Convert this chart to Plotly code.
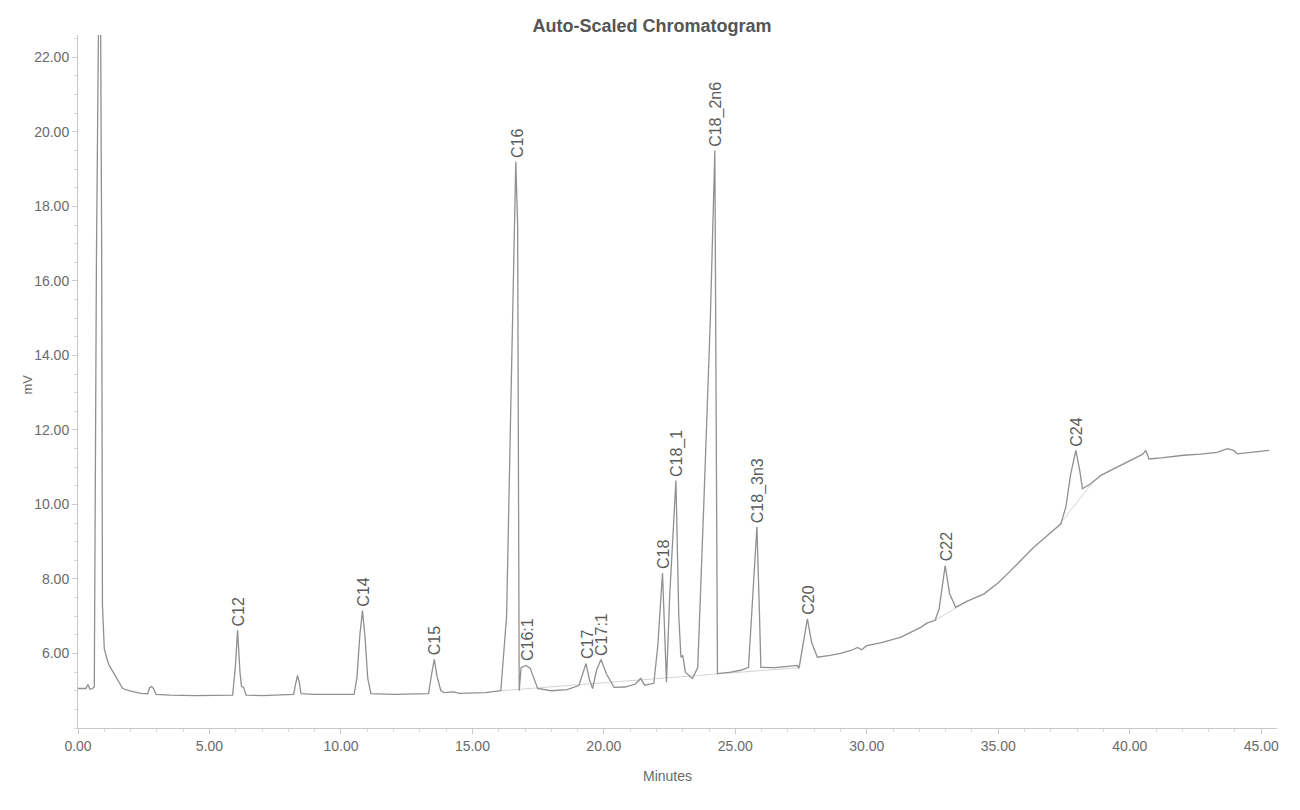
import plotly.graph_objects as go

# ---- data (minutes, mV) ----
times = [0.00, 0.30, 0.38, 0.45, 0.55, 0.62, 0.70, 0.78, 0.86, 0.90, 0.93, 1.00, 1.10, 1.20,
         1.37, 1.55, 1.70, 2.00, 2.40, 2.65, 2.72, 2.80, 2.88, 2.97, 3.50, 4.50, 5.50, 5.88,
         5.98, 6.07, 6.16, 6.22, 6.30, 6.39, 7.00, 7.50, 8.20, 8.28, 8.35, 8.42, 8.48, 9.00,
         10.00, 10.50, 10.61, 10.72, 10.82, 10.92, 11.02, 11.14, 12.00, 12.80, 13.33, 13.45,
         13.55, 13.65, 13.80, 13.92, 14.30, 14.50, 15.50, 16.08, 16.30, 16.50, 16.65, 16.72,
         16.78, 16.85, 17.03, 17.20, 17.48, 18.00, 18.60, 19.05, 19.20, 19.32, 19.45, 19.57,
         19.72, 19.89, 20.10, 20.39, 20.80, 21.20, 21.40, 21.55, 21.90, 22.05, 22.23, 22.33,
         22.38, 22.50, 22.74, 22.85, 22.93, 23.00, 23.10, 23.37, 23.57, 23.80, 24.05, 24.22,
         24.28, 24.32, 24.83, 25.20, 25.50, 25.70, 25.82, 25.92, 25.97, 26.50, 27.00, 27.36,
         27.42, 27.60, 27.74, 27.90, 28.12, 28.60, 29.00, 29.40, 29.65, 29.80, 30.00, 30.60,
         31.30, 32.05, 32.30, 32.60, 32.75, 32.98, 33.15, 33.38, 33.80, 34.46, 35.00, 35.48,
         36.00, 36.35, 37.00, 37.38, 37.57, 37.75, 37.95, 38.10, 38.20, 38.50, 38.90, 39.53,
         40.29, 40.50, 40.61, 40.73, 41.20, 42.05, 42.70, 43.33, 43.71, 43.95, 44.09, 44.60,
         45.30]
signal_mv = [5.06, 5.06, 5.17, 5.04, 5.06, 5.10, 16.5, 22.9, 22.9, 17.0, 7.30, 6.13, 5.85, 5.66,
             5.46, 5.22, 5.06, 4.99, 4.93, 4.92, 5.08, 5.11, 5.05, 4.90, 4.88, 4.87, 4.87, 4.88,
             5.60, 6.62, 5.50, 5.12, 5.09, 4.88, 4.87, 4.89, 4.90, 5.20, 5.41, 5.22, 4.92, 4.90,
             4.90, 4.90, 5.36, 6.50, 7.15, 6.40, 5.33, 4.92, 4.90, 4.92, 4.92, 5.45,
             5.84, 5.40, 5.00, 4.95, 4.97, 4.93, 4.95, 5.00, 7.00, 14.0, 19.2, 17.5,
             5.00, 5.62, 5.68, 5.60, 5.06, 5.00, 5.03, 5.14, 5.45, 5.73, 5.30, 5.06,
             5.55, 5.84, 5.45, 5.09, 5.10, 5.18, 5.33, 5.15, 5.20, 6.20, 8.16, 6.00,
             5.23, 7.50, 10.64, 7.00, 5.90, 5.95, 5.50, 5.33, 5.62, 10.0, 15.0, 19.5,
             12.0, 5.46, 5.50, 5.55, 5.63, 8.00, 9.40, 7.00, 5.63, 5.62, 5.66, 5.68,
             5.60, 6.30, 6.93, 6.30, 5.90, 5.95, 6.00, 6.08, 6.16, 6.10, 6.21, 6.30,
             6.44, 6.70, 6.82, 6.89, 7.20, 8.36, 7.60, 7.24, 7.40, 7.60, 7.90, 8.23,
             8.60, 8.85, 9.25, 9.48, 9.93, 10.8, 11.45, 10.9, 10.42, 10.55, 10.78, 11.00,
             11.27, 11.35, 11.45, 11.22, 11.25, 11.32, 11.35, 11.40, 11.50, 11.45, 11.36, 11.40,
             11.45]

# integration baseline chords (None separates segments)
baseline_t = [16.08, 27.42, None, 32.60, 33.80, None, 37.20, 38.60]
baseline_mv = [5.00, 5.62, None, 6.89, 7.40, None, 9.35, 10.60]

# peak labels
peak_names = ["C12", "C14", "C15", "C16", "C16:1", "C17", "C17:1", "C18", "C18_1",
              "C18_2n6", "C18_3n3", "C20", "C22", "C24"]
peak_t = [6.07, 10.82, 13.55, 16.65, 17.08, 19.32, 19.89, 22.23, 22.74, 24.22, 25.82,
          27.74, 32.98, 37.95]
peak_mv = [6.62, 7.15, 5.84, 19.2, 5.68, 5.73, 5.84, 8.16, 10.64, 19.5, 9.4, 6.93, 8.36, 11.45]

x_ticks = [0, 5, 10, 15, 20, 25, 30, 35, 40, 45]
y_ticks = [6, 8, 10, 12, 14, 16, 18, 20, 22]

FONT = "Liberation Sans, Arial, sans-serif"
TXT = "#6a6a6a"
LINE = "#909090"

fig = go.Figure()
fig.add_trace(go.Scatter(x=baseline_t, y=baseline_mv, mode="lines",
                         line=dict(color="#c8c8c8", width=0.8), hoverinfo="skip",
                         showlegend=False))
fig.add_trace(go.Scatter(x=times, y=signal_mv, mode="lines",
                         line=dict(color=LINE, width=1.3), showlegend=False))

for name, t, v in zip(peak_names, peak_t, peak_mv):
    fig.add_annotation(x=t, y=v, text=name, textangle=-90, showarrow=False,
                       xanchor="center", yanchor="bottom", yshift=2, xshift=1,
                       font=dict(family=FONT, size=16, color="#5c5c5c"))

fig.add_annotation(xref="paper", yref="paper", x=0.492, y=0, yshift=-48,
                   text="Minutes", showarrow=False, yanchor="middle",
                   font=dict(family=FONT, size=14, color=TXT))
fig.add_annotation(xref="paper", yref="paper", x=0, xshift=-60, y=0.495,
                   text="mV", textangle=-90, showarrow=False,
                   font=dict(family=FONT, size=13, color=TXT))

fig.update_layout(
    width=1300, height=810,
    paper_bgcolor="white", plot_bgcolor="white",
    margin=dict(l=70, r=31, t=27, b=90),
    title=dict(text="<b>Auto-Scaled Chromatogram</b>", x=(652 - 8) / 1300, xanchor="center",
               y=1 - 18 / 810, yanchor="middle",
               font=dict(family=FONT, size=18, color="#555555")),
    xaxis=dict(range=[0, 45.6], tickvals=x_ticks, tickformat=".2f",
               showgrid=False, zeroline=False, showline=True, linecolor="#c8c8c8",
               linewidth=1, ticks="outside", ticklen=5, tickcolor="#c8c8c8",
               tickfont=dict(family=FONT, size=14, color=TXT),
               minor=dict(dtick=1, ticklen=3, tickcolor="#d8d8d8", ticks="outside")),
    yaxis=dict(range=[4.0, 22.6], tickvals=y_ticks, tickformat=".2f",
               showgrid=False, zeroline=False, showline=True, linecolor="#c8c8c8",
               linewidth=1, ticks="outside", ticklen=5, tickcolor="#c8c8c8",
               tickfont=dict(family=FONT, size=14, color=TXT),
               minor=dict(dtick=0.5, ticklen=3, tickcolor="#d8d8d8", ticks="outside")),
)

fig.write_html("out.html")
